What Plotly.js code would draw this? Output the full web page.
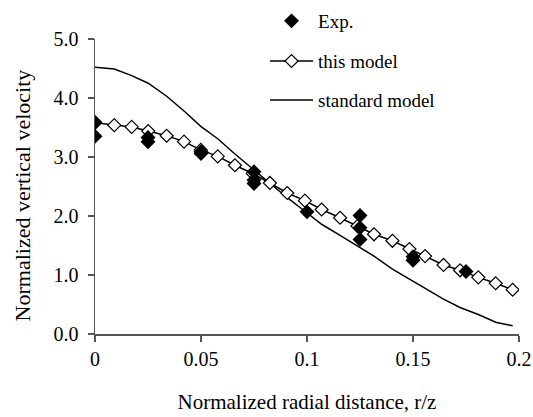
<!DOCTYPE html>
<html>
<head>
<meta charset="utf-8">
<script src="https://cdn.plot.ly/plotly-3.0.1.min.js"></script>
<style>html,body{margin:0;padding:0;background:#fff;}#chart{width:533px;height:417px;}</style>
</head>
<body>
<div id="chart"></div>
<script>
// Experimental data
var expX = [0, 0, 0.025, 0.025, 0.05, 0.05, 0.075, 0.075, 0.075, 0.1, 0.125, 0.125, 0.125, 0.15, 0.15, 0.175];
var expY = [3.59, 3.35, 3.33, 3.26, 3.09, 3.06, 2.75, 2.61, 2.55, 2.07, 2.01, 1.80, 1.60, 1.31, 1.25, 1.06];

// "this model"
var modelX = [0, 0.0091, 0.0173, 0.0251, 0.0338, 0.042, 0.0499, 0.0579, 0.066, 0.0744, 0.0825, 0.0907, 0.099, 0.1069, 0.1156, 0.1238, 0.1316, 0.1403, 0.1483, 0.1557, 0.1644, 0.1722, 0.1808, 0.189, 0.197];
var modelY = [3.58, 3.54, 3.51, 3.44, 3.36, 3.26, 3.12, 3.01, 2.86, 2.72, 2.56, 2.39, 2.26, 2.11, 1.97, 1.83, 1.69, 1.58, 1.44, 1.32, 1.17, 1.08, 0.96, 0.86, 0.75];

// "standard model"
var stdX = modelX;
var stdY = [4.52, 4.49, 4.38, 4.25, 4.03, 3.78, 3.52, 3.31, 3.05, 2.80, 2.55, 2.31, 2.08, 1.86, 1.67, 1.49, 1.32, 1.10, 0.93, 0.78, 0.59, 0.45, 0.33, 0.20, 0.14];

var xTicks = [0, 0.05, 0.1, 0.15, 0.2];
var xTickText = ['0', '0.05', '0.1', '0.15', '0.2'];
var yTicks = [0, 1, 2, 3, 4, 5];
var yTickText = ['0.0', '1.0', '2.0', '3.0', '4.0', '5.0'];

var FONT = 'Liberation Serif, Times New Roman, serif';

var traces = [
  {
    x: stdX, y: stdY, type: 'scatter', mode: 'lines', name: 'standard model',
    line: {color: '#000', width: 1.5}, legend: 'legend3'
  },
  {
    x: modelX, y: modelY, type: 'scatter', mode: 'lines+markers', name: 'this model',
    line: {color: '#000', width: 1.5},
    marker: {symbol: 'diamond', size: 10, color: '#fff', line: {color: '#000', width: 1.2}},
    legend: 'legend2'
  },
  {
    x: expX, y: expY, type: 'scatter', mode: 'markers', name: 'Exp.',
    marker: {symbol: 'diamond', size: 11.5, color: '#000', line: {width: 0}},
    legend: 'legend'
  }
];

var legendBase = {
  xanchor: 'left', yanchor: 'middle', bgcolor: 'rgba(0,0,0,0)', borderwidth: 0,
  itemwidth: 43,
  font: {family: FONT, size: 19, color: '#000'}
};

var layout = {
  width: 533, height: 417,
  margin: {l: 95, r: 14, t: 39, b: 83, pad: 0, autoexpand: false},
  paper_bgcolor: '#fff', plot_bgcolor: '#fff',
  font: {family: FONT, color: '#000'},
  showlegend: true,
  legend: Object.assign({}, legendBase, {x: 0.401, y: 1.061}),
  legend2: Object.assign({}, legendBase, {x: 0.401, y: 0.925}),
  legend3: Object.assign({}, legendBase, {x: 0.401, y: 0.793}),
  xaxis: {
    range: [0, 0.2], tickvals: xTicks, ticktext: xTickText,
    showgrid: false, zeroline: false, showline: true, linecolor: '#555', linewidth: 1.5,
    ticks: 'outside', ticklen: 6, tickcolor: '#555', tickwidth: 1.5,
    tickfont: {family: FONT, size: 20, color: '#000'},
    title: {text: 'Normalized radial distance, r/z', font: {family: FONT, size: 21, color: '#000'}, standoff: 26}
  },
  yaxis: {
    range: [0, 5], tickvals: yTicks, ticktext: yTickText,
    showgrid: false, zeroline: false, showline: true, linecolor: '#555', linewidth: 1.5,
    ticks: 'outside', ticklen: 6, tickcolor: '#555', tickwidth: 1.5,
    ticklabelstandoff: 5,
    tickfont: {family: FONT, size: 20, color: '#000'}
  },
  annotations: [{
    text: 'Normalized vertical velocity', textangle: -90,
    xref: 'paper', yref: 'paper', x: -0.172, y: 0.47,
    xanchor: 'center', yanchor: 'middle', showarrow: false,
    font: {family: FONT, size: 22, color: '#000'}
  }]
};

Plotly.newPlot('chart', traces, layout, {displayModeBar: false, staticPlot: true});
</script>
</body>
</html>
